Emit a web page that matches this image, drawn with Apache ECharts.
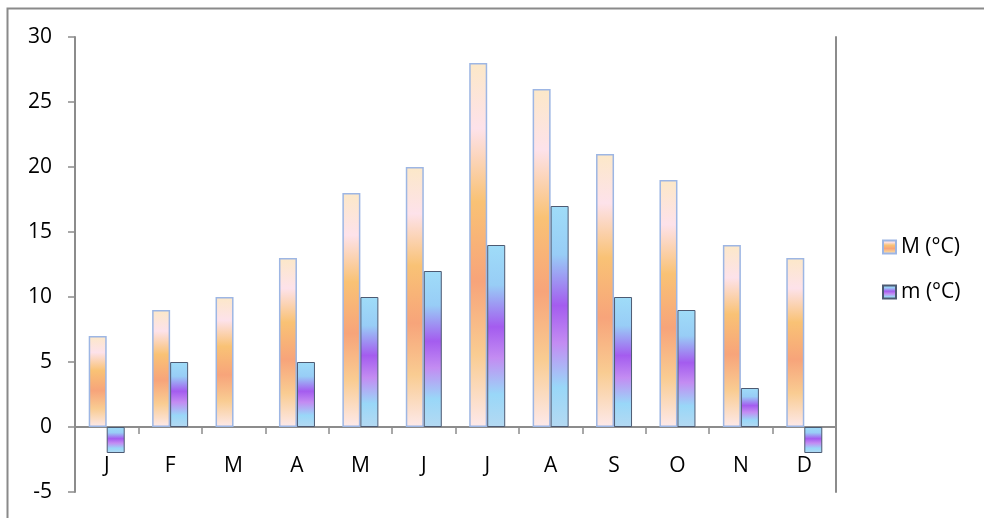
<!DOCTYPE html>
<html>
<head>
<meta charset="utf-8">
<script src="https://cdn.jsdelivr.net/npm/echarts@6/dist/echarts.min.js"></script>
<style>
  html, body { margin: 0; padding: 0; background: #fff; }
  #chart { width: 984px; height: 518px; }
</style>
</head>
<body>
<div id="chart"></div>
<script>
// Monthly temperatures: maxima (M) and minima (m)
const months = ['J', 'F', 'M', 'A', 'M', 'J', 'J', 'A', 'S', 'O', 'N', 'D'];
const maxTemps = [7, 9, 10, 13, 18, 20, 28, 26, 21, 19, 14, 13];
const minTemps = [-2, 5, 0, 5, 10, 12, 14, 17, 10, 9, 3, -2];
const seriesNames = ['M (°C)', 'm (°C)'];

const FONT = '"Open Sans", sans-serif';
const FONT_SIZE = 21;
const AXIS_GRAY = '#8c8c8c';

const warmGradient = new echarts.graphic.LinearGradient(0, 0, 0, 1, [
  { offset: 0.00, color: '#fce8c8' },
  { offset: 0.18, color: '#fde2ea' },
  { offset: 0.38, color: '#f9c275' },
  { offset: 0.60, color: '#f7a47a' },
  { offset: 0.80, color: '#f9cc92' },
  { offset: 1.00, color: '#fde9ea' }
]);

const coolGradient = new echarts.graphic.LinearGradient(0, 0, 0, 1, [
  { offset: 0.00, color: '#9fdcf8' },
  { offset: 0.22, color: '#98cdf6' },
  { offset: 0.45, color: '#a45cef' },
  { offset: 0.62, color: '#c38cf2' },
  { offset: 0.82, color: '#99d7f8' },
  { offset: 1.00, color: '#b4d9f2' }
]);

// a zero-height bar gets no outline
const minData = minTemps.map(v => v === 0
  ? { value: v, itemStyle: { borderWidth: 0 } }
  : v);

const chart = echarts.init(document.getElementById('chart'), null, { renderer: 'canvas' });

chart.setOption({
  animation: false,
  backgroundColor: '#ffffff',
  textStyle: { fontFamily: FONT },
  graphic: [{
    type: 'rect',
    shape: { x: 7.5, y: 8.5, width: 1100, height: 700 },
    style: { fill: 'none', stroke: '#8a8a8a', lineWidth: 2 },
    silent: true
  }],
  grid: { left: 75, right: 148, top: 37, bottom: 26, outerBoundsMode: 'none', containLabel: false },
  legend: {
    orient: 'vertical',
    left: 877,
    top: 230,
    icon: 'rect',
    itemWidth: 13,
    itemHeight: 13,
    itemGap: 21,
    textStyle: { fontSize: FONT_SIZE, lineHeight: 24, color: '#000', fontFamily: FONT },
    data: seriesNames
  },
  xAxis: [{
    type: 'category',
    data: months,
    axisLine: { onZero: true, lineStyle: { color: AXIS_GRAY, width: 2 } },
    axisTick: { show: true, length: 7, lineStyle: { color: AXIS_GRAY, width: 1.5 } },
    axisLabel: { show: false },
    splitLine: { show: false }
  }, {
    // month labels sit just above the lower edge of the plot
    type: 'category',
    data: months,
    position: 'bottom',
    offset: -38,
    axisLine: { show: false, onZero: false },
    axisTick: { show: false },
    axisLabel: { margin: 2, fontSize: FONT_SIZE, color: '#000', fontFamily: FONT },
    splitLine: { show: false }
  }],
  yAxis: [{
    type: 'value',
    min: -5,
    max: 30,
    interval: 5,
    axisLine: { show: true, onZero: false, lineStyle: { color: AXIS_GRAY, width: 2 } },
    axisTick: { show: true, length: 7, lineStyle: { color: AXIS_GRAY, width: 1.5 } },
    axisLabel: { margin: 23, fontSize: FONT_SIZE, color: '#000', fontFamily: FONT },
    splitLine: { show: false }
  }, {
    type: 'value',
    position: 'right',
    min: -5,
    max: 30,
    interval: 5,
    axisLine: { show: true, onZero: false, lineStyle: { color: AXIS_GRAY, width: 2 } },
    axisTick: { show: false },
    axisLabel: { show: false },
    splitLine: { show: false }
  }],
  series: [{
    name: seriesNames[0],
    type: 'bar',
    data: maxTemps,
    barWidth: 18,
    barGap: '0%',
    itemStyle: { color: warmGradient, borderColor: '#9db6e4', borderWidth: 1.5 }
  }, {
    name: seriesNames[1],
    type: 'bar',
    data: minData,
    barWidth: 18,
    barGap: '0%',
    itemStyle: { color: coolGradient, borderColor: '#4d5a72', borderWidth: 1 }
  }]
});
</script>
</body>
</html>
